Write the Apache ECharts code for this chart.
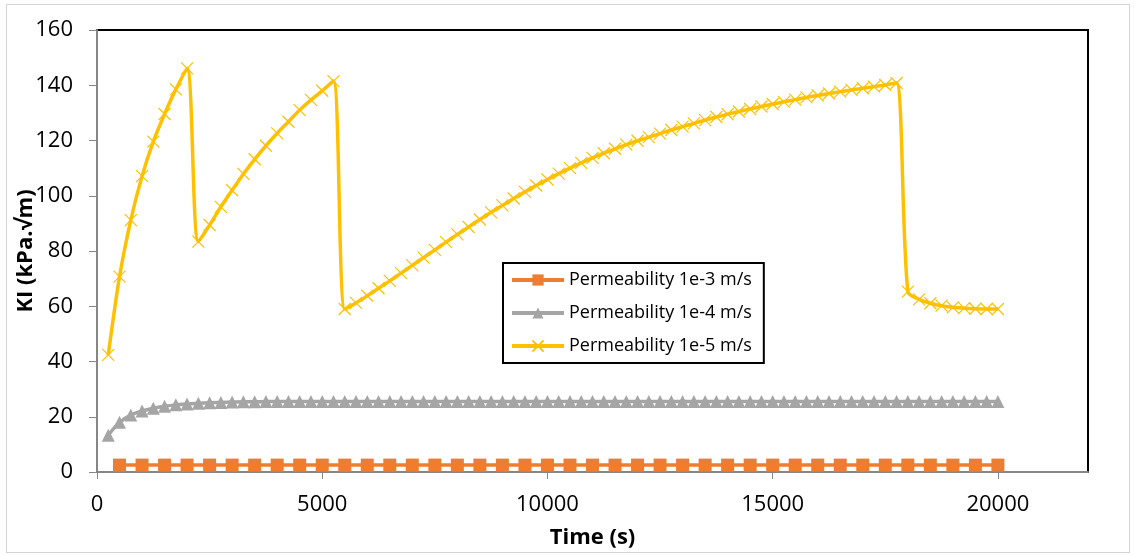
<!DOCTYPE html>
<html>
<head>
<meta charset="utf-8">
<title>KI vs time</title>
<script src="https://cdn.jsdelivr.net/npm/echarts@6/dist/echarts.min.js"></script>
<style>
  html, body { margin: 0; padding: 0; background: #fff; }
  #frame {
    position: absolute; left: 6px; top: 4px; width: 1124px; height: 549px;
    border: 1.5px solid #d4d4d4; box-sizing: border-box;
  }
  #main { position: absolute; left: 0; top: 0; width: 1134px; height: 555px; }
</style>
</head>
<body>
<div id="frame"></div>
<div id="main"></div>
<script>
// time (s)
const timeK3 = [500, 1000, 1500, 2000, 2500, 3000, 3500, 4000, 4500, 5000,
  5500, 6000, 6500, 7000, 7500, 8000, 8500, 9000, 9500, 10000,
  10500, 11000, 11500, 12000, 12500, 13000, 13500, 14000, 14500, 15000,
  15500, 16000, 16500, 17000, 17500, 18000, 18500, 19000, 19500, 20000];
const timeK45 = [250, 500, 750, 1000, 1250, 1500, 1750, 2000, 2250, 2500,
  2750, 3000, 3250, 3500, 3750, 4000, 4250, 4500, 4750, 5000,
  5250, 5500, 5750, 6000, 6250, 6500, 6750, 7000, 7250, 7500,
  7750, 8000, 8250, 8500, 8750, 9000, 9250, 9500, 9750, 10000,
  10250, 10500, 10750, 11000, 11250, 11500, 11750, 12000, 12250, 12500,
  12750, 13000, 13250, 13500, 13750, 14000, 14250, 14500, 14750, 15000,
  15250, 15500, 15750, 16000, 16250, 16500, 16750, 17000, 17250, 17500,
  17750, 18000, 18250, 18500, 18750, 19000, 19250, 19500, 19750, 20000];

// KI (kPa.√m)
const kiPerm1e3 = [2.5, 2.5, 2.5, 2.5, 2.5, 2.5, 2.5, 2.5, 2.5, 2.5,
  2.5, 2.5, 2.5, 2.5, 2.5, 2.5, 2.5, 2.5, 2.5, 2.5,
  2.5, 2.5, 2.5, 2.5, 2.5, 2.5, 2.5, 2.5, 2.5, 2.5,
  2.5, 2.5, 2.5, 2.5, 2.5, 2.5, 2.5, 2.5, 2.5, 2.5];
const kiPerm1e4 = [13.3, 18.0, 20.6, 22.1, 23.1, 23.8, 24.3, 24.6, 24.9, 25.1,
  25.2, 25.3, 25.4, 25.4, 25.5, 25.5, 25.5, 25.5, 25.5, 25.5,
  25.5, 25.5, 25.5, 25.5, 25.5, 25.5, 25.5, 25.5, 25.5, 25.5,
  25.5, 25.5, 25.5, 25.5, 25.5, 25.5, 25.5, 25.5, 25.5, 25.5,
  25.5, 25.5, 25.5, 25.5, 25.5, 25.5, 25.5, 25.5, 25.5, 25.5,
  25.5, 25.5, 25.5, 25.5, 25.5, 25.5, 25.5, 25.5, 25.5, 25.5,
  25.5, 25.5, 25.5, 25.5, 25.5, 25.5, 25.5, 25.5, 25.5, 25.5,
  25.5, 25.5, 25.5, 25.5, 25.5, 25.5, 25.5, 25.5, 25.5, 25.5];
const kiPerm1e5 = [42.4, 70.7, 91.2, 107.1, 119.6, 129.6, 138.5, 146.1, 83.4, 89.4,
  96.0, 102.0, 107.9, 113.2, 118.1, 122.6, 126.8, 131.0, 134.7, 138.0,
  141.5, 59.0, 61.2, 63.8, 66.5, 69.2, 72.0, 74.8, 77.6, 80.4,
  83.2, 86.0, 88.7, 91.4, 94.0, 96.5, 99.0, 101.4, 103.7, 105.9,
  108.0, 110.0, 111.9, 113.7, 115.4, 117.0, 118.5, 119.9, 121.2, 122.5,
  123.8, 125.0, 126.2, 127.4, 128.5, 129.5, 130.5, 131.4, 132.3, 133.2,
  134.0, 134.8, 135.6, 136.3, 137.0, 137.7, 138.3, 138.9, 139.5, 140.1,
  140.8, 65.3, 62.5, 61.1, 60.2, 59.6, 59.3, 59.1, 59.0, 59.0];

const seriesNames = ['Permeability 1e-3 m/s', 'Permeability 1e-4 m/s', 'Permeability 1e-5 m/s'];

const pairs = (xs, ys) => xs.map((x, i) => [x, ys[i]]);
const FONT = '"Open Sans", "Noto Sans", sans-serif';
const AXIS_GRAY = '#868686';

const chart = echarts.init(document.getElementById('main'), null, { renderer: 'canvas' });

const options = {
  animation: false,
  backgroundColor: 'transparent',
  textStyle: { fontFamily: FONT },
  grid: {
    left: 97, right: 46, top: 30, bottom: 83,
    outerBoundsMode: 'none',
    show: true, borderColor: '#000', borderWidth: 2, backgroundColor: 'transparent',
  },
  legend: {
    orient: 'vertical',
    left: 503, top: 263,
    data: seriesNames,
    borderColor: '#000', borderWidth: 2,
    padding: [7, 12, 7, 7],
    itemGap: 13,
    itemWidth: 52, itemHeight: 14,
    lineStyle: { width: 4 },
    textStyle: { fontSize: 18, color: '#000', fontFamily: FONT, lineHeight: 20 },
  },
  xAxis: {
    type: 'value',
    min: 0, max: 22000, interval: 5000,
    name: 'Time (s)',
    nameLocation: 'middle',
    nameGap: 55,
    nameMoveOverlap: false,
    nameTextStyle: { fontSize: 22, fontWeight: 'bold', color: '#000', fontFamily: FONT },
    axisLine: { show: true, onZero: false, lineStyle: { color: AXIS_GRAY, width: 2 } },
    axisTick: { show: true, inside: false, length: 7, lineStyle: { color: AXIS_GRAY, width: 1 } },
    axisLabel: {
      fontSize: 22, color: '#000', margin: 22, showMaxLabel: false, fontFamily: FONT,
      formatter: (v) => String(v),
    },
    splitLine: { show: false },
  },
  yAxis: {
    type: 'value',
    min: 0, max: 160, interval: 20,
    name: 'KI (kPa.√m)',
    nameLocation: 'middle',
    nameGap: 60,
    nameMoveOverlap: false,
    nameTextStyle: { fontSize: 22, fontWeight: 'bold', color: '#000', fontFamily: FONT },
    axisLine: { show: true, lineStyle: { color: AXIS_GRAY, width: 2 } },
    axisTick: { show: true, inside: false, length: 8, lineStyle: { color: AXIS_GRAY, width: 1 } },
    axisLabel: { fontSize: 22, color: '#000', margin: 24, fontFamily: FONT },
    splitLine: { show: false },
  },
  series: [
    {
      name: seriesNames[0],
      type: 'line',
      data: pairs(timeK3, kiPerm1e3),
      symbol: 'rect', symbolSize: 13, showAllSymbol: true,
      lineStyle: { color: '#ED7D31', width: 3.5 },
      itemStyle: { color: '#ED7D31' },
      z: 3,
    },
    {
      name: seriesNames[1],
      type: 'line',
      data: pairs(timeK45, kiPerm1e4),
      smooth: 0.3,
      symbol: 'triangle', symbolSize: 13, showAllSymbol: true,
      lineStyle: { color: '#A5A5A5', width: 3.5 },
      itemStyle: { color: '#A5A5A5' },
      z: 3,
    },
    {
      name: seriesNames[2],
      type: 'line',
      data: pairs(timeK45, kiPerm1e5),
      smooth: 0.3,
      symbol: 'path://M0,0L10,10M10,0L0,10', symbolSize: 12, showAllSymbol: true,
      lineStyle: { color: '#FFC000', width: 3.5 },
      itemStyle: { color: 'transparent', borderColor: '#FFC000', borderWidth: 1.2 },
      z: 3,
    },
  ],
};

chart.setOption(options);
window.addEventListener('resize', () => chart.resize());
</script>
</body>
</html>
